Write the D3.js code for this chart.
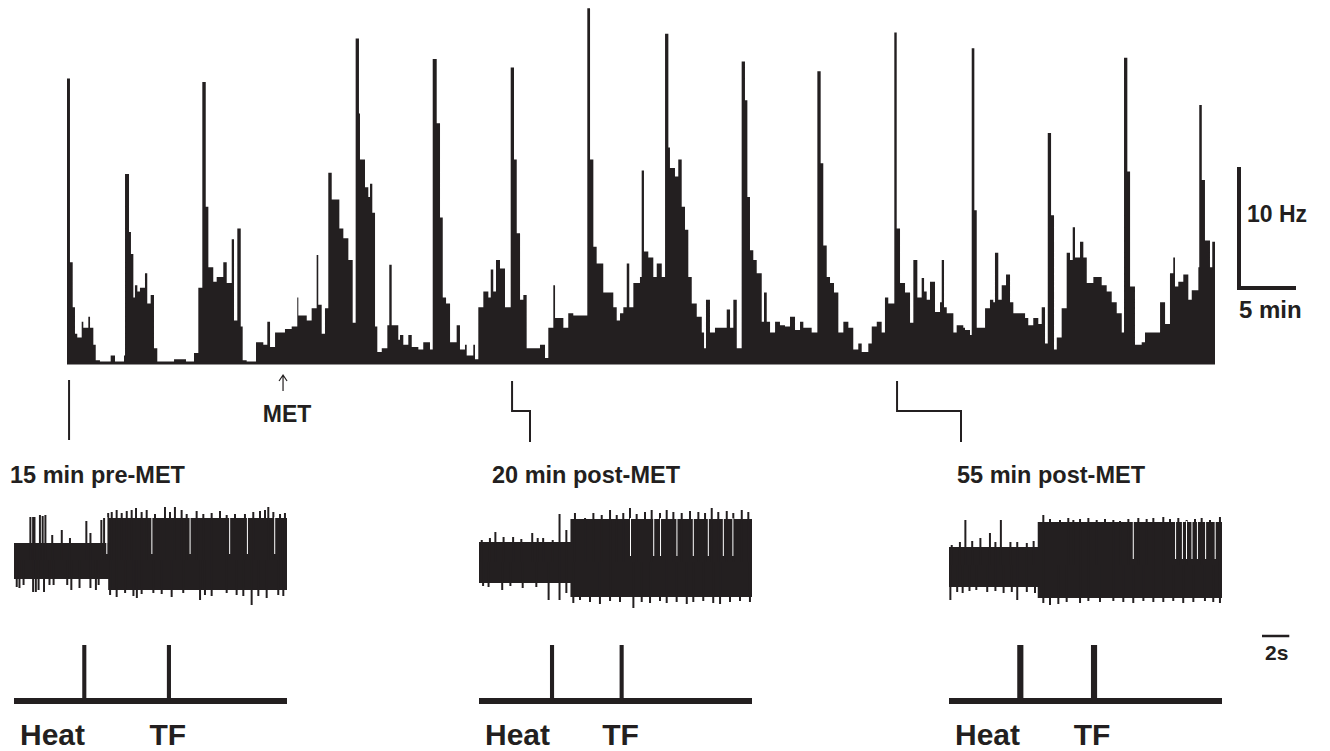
<!DOCTYPE html>
<html>
<head>
<meta charset="utf-8">
<script src="https://cdn.jsdelivr.net/npm/d3@7"></script>
<style>
  body { margin: 0; background: #fff; }
  text { font-family: "Liberation Sans", Arial, sans-serif; font-weight: bold; fill: #231f20; }
</style>
</head>
<body>
<div id="canvas"></div>
<script>
// ratemeter: [time (min), rate (Hz)], step after each time
const ratemeter = [
  [0, 23.6], [0.26, 8.4], [0.50, 4.7], [0.70, 2.5], [0.90, 2.2], [1.29, 3.5], [1.43, 3.0], [1.87, 3.9],
  [2.02, 3.0], [2.31, 1.6], [2.52, 0.3], [2.89, 0], [3.83, 0.7], [4.21, 0], [5.00, 0.7], [5.09, 15.7],
  [5.44, 10.9], [5.61, 9.1], [5.82, 5.5], [5.96, 6.5], [6.17, 6.0], [6.40, 6.3], [6.84, 7.5], [7.04, 5.0],
  [7.34, 5.7], [7.63, 1.3], [7.92, 0], [9.39, 0.4], [10.44, 0], [11.14, 0.9], [11.52, 6.3], [11.87, 23.3],
  [12.17, 13.0], [12.40, 8.0], [12.83, 6.8], [13.13, 7.2], [13.71, 8.4], [14.01, 6.7], [14.45, 10.3], [14.65, 3.6],
  [14.94, 11.2], [15.24, 3.1], [15.41, 0.3], [15.76, 0], [16.58, 1.8], [17.22, 1.6], [17.57, 3.5], [17.81, 1.4],
  [18.25, 2.6], [19.12, 2.9], [19.71, 3.1], [20.20, 5.5], [20.29, 4.0], [21.03, 3.6], [21.46, 4.6], [21.90, 9.0],
  [22.04, 4.9], [22.34, 2.5], [22.63, 4.6], [22.92, 15.8], [23.22, 13.6], [23.89, 11.2], [24.24, 10.4], [24.68, 8.6],
  [25.06, 3.4], [25.32, 26.9], [25.61, 20.7], [25.70, 16.9], [26.14, 14.6], [26.43, 13.8], [26.58, 14.9], [26.78, 12.5],
  [27.02, 3.1], [27.22, 1.0], [27.61, 1.3], [28.10, 3.2], [28.27, 8.2], [28.48, 3.2], [29.06, 2.0], [29.21, 2.4],
  [29.50, 1.6], [29.94, 2.4], [30.24, 1.4], [30.82, 1.2], [31.25, 1.8], [31.84, 1.2], [32.08, 25.2], [32.43, 19.9],
  [32.72, 12.1], [32.96, 5.5], [33.25, 5.0], [33.60, 1.8], [34.18, 3.2], [34.47, 1.2], [34.91, 1.6], [35.06, 0.7],
  [35.64, 1.6], [35.79, 0.4], [36.08, 4.7], [36.52, 6.0], [36.96, 5.5], [37.17, 7.8], [37.39, 6.0], [37.63, 8.6],
  [37.98, 7.9], [38.42, 4.7], [38.92, 24.5], [39.21, 16.9], [39.45, 10.8], [39.74, 5.3], [40.03, 5.7], [40.32, 1.3],
  [41.49, 1.6], [41.93, 0.5], [42.22, 3.0], [42.66, 6.5], [42.81, 3.8], [43.54, 3.0], [43.97, 4.2], [44.41, 4.0],
  [45.64, 29.4], [45.88, 16.9], [46.17, 9.7], [46.46, 8.3], [47.04, 5.9], [47.92, 4.7], [48.22, 3.6], [48.51, 4.2],
  [48.80, 4.7], [49.10, 8.3], [49.32, 4.7], [49.68, 6.7], [50.26, 7.2], [50.41, 16.0], [50.61, 9.3], [50.99, 8.8],
  [51.43, 7.2], [51.73, 8.3], [52.17, 7.2], [52.46, 27.3], [52.75, 17.9], [52.89, 16.2], [53.33, 15.5], [53.62, 16.9],
  [53.92, 13.0], [54.21, 11.1], [54.50, 7.2], [54.80, 5.0], [55.24, 3.9], [55.68, 2.6], [55.88, 1.3], [56.05, 5.3],
  [56.40, 2.6], [56.84, 3.0], [57.87, 4.5], [58.16, 3.0], [58.45, 5.3], [58.75, 1.3], [59.18, 25.0], [59.47, 21.8],
  [59.68, 13.8], [59.91, 9.4], [60.20, 8.6], [60.50, 7.5], [60.94, 3.5], [61.14, 5.9], [61.38, 3.5], [61.67, 2.6],
  [62.11, 3.5], [62.54, 3.2], [62.98, 3.1], [63.42, 3.9], [63.86, 2.8], [64.30, 3.5], [64.59, 3.0], [65.32, 2.6],
  [65.82, 24.2], [66.11, 16.6], [66.34, 9.8], [66.64, 7.2], [66.93, 6.7], [67.28, 5.9], [67.66, 2.6], [68.10, 3.5],
  [68.54, 3.0], [68.97, 1.2], [69.41, 1.7], [69.71, 1.0], [70.29, 1.7], [70.59, 3.1], [71.03, 3.5], [71.46, 2.6],
  [71.75, 5.5], [72.04, 5.0], [72.57, 27.4], [72.78, 11.2], [73.07, 6.7], [73.51, 5.9], [73.95, 3.4], [74.24, 8.6],
  [74.59, 5.5], [74.97, 7.1], [75.18, 6.0], [75.41, 5.3], [75.70, 6.8], [76.14, 4.3], [76.58, 5.1], [76.73, 8.6],
  [76.93, 4.7], [77.17, 4.2], [77.75, 2.6], [78.04, 3.2], [78.62, 3.0], [78.77, 2.8], [79.21, 2.4], [79.36, 26.1],
  [79.59, 12.7], [79.80, 3.0], [80.53, 4.6], [80.96, 5.3], [81.25, 5.1], [81.40, 9.2], [81.69, 5.3], [81.99, 6.5],
  [82.37, 7.4], [82.72, 5.1], [83.01, 4.2], [84.04, 3.8], [84.32, 3.2], [84.76, 3.8], [85.20, 3.3], [85.50, 4.7],
  [85.79, 1.7], [86.03, 19.1], [86.32, 12.3], [86.58, 1.2], [86.82, 2.2], [87.25, 4.6], [87.69, 9.2], [87.98, 8.6],
  [88.22, 11.3], [88.42, 8.8], [88.86, 10.1], [89.15, 8.8], [89.45, 6.7], [90.03, 7.2], [90.76, 6.5], [91.20, 6.0],
  [91.64, 5.1], [92.08, 4.2], [92.52, 2.6], [92.72, 25.3], [93.01, 15.9], [93.25, 6.4], [93.68, 1.6], [94.27, 1.8],
  [94.56, 2.6], [95.88, 5.1], [96.32, 3.3], [96.75, 7.5], [97.04, 8.8], [97.19, 6.4], [97.48, 6.8], [97.92, 7.4],
  [98.36, 5.3], [98.66, 6.1], [99.24, 8.0], [99.32, 21.4], [99.54, 15.2], [99.82, 10.2], [100.26, 8.0], [100.46, 10.1],
  [100.70, 10.1]
];

const metTime = 18.95;               // min
const snapTimes = [0.18, 39.04, 72.81];
const snapLabels = ["15 min pre-MET", "20 min post-MET", "55 min post-MET"];

// raw extracellular traces (20 s each), arbitrary units
const stepTime = [6.9, 6.7, 6.5];    // s, onset of firing increase
const bandPre = [[17, -19], [20, -21], [18, -22]];
const bandPost = [[42, -30], [43, -35], [43, -33]];

// [time (s), excursion]
const spikes1 = [
  [1.2, 43], [1.4, 43], [1.5, 43], [1.9, 45], [2.1, 44], [2.3, 45], [2.8, 25], [3.5, 30], [4.1, 22], [5.3, 39],
  [5.6, 27], [6.4, 40], [6.6, 42], [6.9, 47],
  [7.16, 48], [7.52, 50], [7.89, 47], [8.26, 49], [8.62, 50], [8.94, 52], [9.35, 48], [9.72, 50], [10.33, 46],
  [11.06, 53], [11.43, 48], [11.79, 53], [12.28, 50], [12.65, 46], [13.38, 49], [13.87, 46], [14.48, 47],
  [15.09, 49], [15.58, 45], [16.19, 46], [16.92, 46], [17.53, 48], [18.02, 49], [18.39, 50], [18.63, 53],
  [19.0, 48], [19.49, 46], [19.85, 47],
  [0.2, -27], [0.4, -28], [0.7, -25], [1.4, -32], [1.6, -32], [1.8, -30], [2.2, -32], [2.6, -25], [2.9, -25],
  [3.9, -25], [4.2, -30], [4.8, -28], [5.6, -28], [6.0, -30], [6.2, -25],
  [7.04, -35], [7.52, -37], [8.14, -33], [8.75, -36], [9.0, -38], [9.35, -34], [10.21, -33], [10.82, -34],
  [11.55, -37], [12.40, -33], [13.63, -40], [13.99, -35], [14.48, -36], [15.58, -33], [16.31, -35], [16.80, -36],
  [17.41, -45], [17.90, -36], [18.51, -38], [19.36, -35], [19.73, -36]
];
const spikes2 = [
  [0.2, 22], [0.8, 24], [1.2, 30], [1.8, 25], [2.5, 25], [3.1, 23], [3.9, 29], [4.3, 24], [4.7, 24], [5.4, 22],
  [5.9, 48], [6.4, 32],
  [7.03, 49], [7.77, 44], [8.38, 49], [8.99, 47], [9.60, 52], [10.09, 47], [10.57, 49], [11.06, 54], [11.55, 48],
  [12.16, 50], [12.65, 52], [13.26, 49], [13.75, 52], [14.24, 50], [14.85, 49], [15.46, 51], [16.07, 50],
  [16.56, 49], [17.05, 54], [17.53, 50], [18.15, 51], [18.63, 49], [19.25, 52], [19.73, 50],
  [0.3, -24], [0.7, -25], [1.7, -28], [2.3, -24], [3.2, -26], [4.2, -25], [5.1, -38], [5.9, -38], [6.4, -31],
  [6.91, -41], [7.40, -38], [8.13, -40], [8.86, -42], [9.60, -39], [10.33, -40], [11.31, -46], [11.92, -40],
  [12.53, -41], [13.26, -39], [13.75, -41], [14.48, -40], [15.22, -42], [15.70, -40], [16.43, -39], [17.16, -41],
  [17.66, -42], [18.39, -40], [19.12, -39], [19.85, -40]
];
const spikes3 = [
  [0.2, 20], [0.8, 23], [1.2, 45], [1.7, 24], [2.3, 27], [3.0, 32], [3.4, 23], [3.8, 45], [4.5, 23], [5.0, 23],
  [5.7, 22], [6.2, 24],
  [6.91, 50], [7.40, 46], [8.13, 45], [8.74, 47], [9.11, 45], [9.60, 46], [10.21, 47], [10.82, 45], [11.43, 46],
  [12.04, 45], [12.53, 44], [13.14, 46], [13.87, 47], [14.48, 46], [14.97, 47], [15.70, 48], [16.19, 46],
  [16.80, 47], [17.41, 45], [18.02, 46], [18.51, 47], [19.12, 45], [19.85, 48],
  [0.1, -35], [0.6, -27], [1.0, -28], [1.5, -26], [2.0, -25], [2.8, -27], [3.4, -26], [4.0, -28], [4.6, -27],
  [5.0, -35], [5.7, -27], [6.3, -28],
  [6.91, -38], [7.40, -40], [8.01, -39], [8.62, -37], [9.60, -38], [10.21, -36], [11.06, -37], [12.04, -36],
  [12.77, -37], [13.50, -38], [14.24, -36], [14.97, -37], [15.70, -37], [16.43, -36], [17.16, -38], [17.90, -37],
  [18.75, -36], [19.36, -37], [19.85, -38]
];
const rawSpikes = [spikes1, spikes2, spikes3];

// thin white gaps in the upper half of the firing band (s)
const gaps1 = [6.8, 10.1, 12.9, 15.8, 17.1, 19.1];
const gaps2 = [11.1, 12.8, 13.3, 14.5, 15.7, 16.8, 17.9, 18.6];
const gaps3 = [13.5, 16.6, 17.1, 17.4, 17.8, 18.2, 18.8, 19.5];
const rawGaps = [gaps1, gaps2, gaps3];

// stimulus marker channel
const heatTimes = [5.0, 5.2, 5.0];   // s
const tfTimes = [11.2, 10.3, 10.4];
const pulseDur = [0.3, 0.3, 0.45];

const ink = "#231f20";
const width = 1330;
const height = 751;

const svg = d3.select("#canvas").append("svg")
  .attr("width", width)
  .attr("height", height);

// ---- ratemeter ----
const x = d3.scaleLinear().domain([0, 100.7]).range([67, 1215]);
const y = d3.scaleLinear().domain([0, 30]).range([364, 1]);

svg.append("path")
  .datum(ratemeter)
  .attr("fill", ink)
  .attr("d", d3.area()
    .curve(d3.curveStepAfter)
    .x(d => x(d[0]))
    .y0(y(0))
    .y1(d => y(d[1])));

svg.append("line")
  .attr("x1", x(0)).attr("x2", x(100.7))
  .attr("y1", y(0) - 1).attr("y2", y(0) - 1)
  .attr("stroke", ink).attr("stroke-width", 3);

// scale bars
const sbX = 1239, sbY = 288;
svg.append("path")
  .attr("d", `M${sbX},${sbY - (y(0) - y(10))} V${sbY} H${sbX + x(5) - x(0)}`)
  .attr("fill", "none").attr("stroke", ink).attr("stroke-width", 4);
svg.append("text").attr("x", 1247).attr("y", 222).style("font-size", "23px").text("10 Hz");
svg.append("text").attr("x", 1239).attr("y", 318).style("font-size", "24px").text("5 min");

// MET arrow
const mx = x(metTime);
svg.append("path")
  .attr("d", `M${mx},391 V375 M${mx - 4},381 L${mx},375 L${mx + 4},381`)
  .attr("fill", "none").attr("stroke", ink).attr("stroke-width", 1.2);
svg.append("text").attr("x", mx + 4).attr("y", 422)
  .attr("text-anchor", "middle").style("font-size", "23px").text("MET");

// connectors from the ratemeter to each snapshot
const elbowTo = [null, 530, 961];
snapTimes.forEach((t, i) => {
  const sx = x(t);
  const d = elbowTo[i] === null
    ? `M${sx},380 V440`
    : `M${sx},381 V411 H${elbowTo[i]} V442`;
  svg.append("path").attr("d", d)
    .attr("fill", "none").attr("stroke", ink).attr("stroke-width", 2);
});

// ---- raw traces + stimulus channel ----
const panelX = [14, 479, 949];
const panelMid = [560, 562, 565];
const labelX = [10, 492, 957];
const xr = d3.scaleLinear().domain([0, 20]).range([0, 273]);
const yr = d3.scaleLinear().domain([-60, 60]).range([60, -60]);
const ym = d3.scaleLinear().domain([0, 1]).range([701, 645]);

panelX.forEach((px, i) => {
  svg.append("text").attr("x", labelX[i]).attr("y", 483)
    .style("font-size", "23.5px").text(snapLabels[i]);

  const g = svg.append("g").attr("transform", `translate(${px},${panelMid[i]})`);
  const band = [
    [0, bandPre[i]],
    [stepTime[i], bandPost[i]],
    [20, bandPost[i]]
  ];
  g.append("path")
    .datum(band)
    .attr("fill", ink)
    .attr("d", d3.area()
      .curve(d3.curveStepAfter)
      .x(d => xr(d[0]))
      .y0(d => yr(d[1][1]))
      .y1(d => yr(d[1][0])));

  g.selectAll("line.spike")
    .data(rawSpikes[i])
    .enter()
    .append("line")
    .attr("class", "spike")
    .attr("x1", d => xr(d[0])).attr("x2", d => xr(d[0]))
    .attr("y1", yr(0)).attr("y2", d => yr(d[1]))
    .attr("stroke", ink).attr("stroke-width", 2);

  g.selectAll("line.gap")
    .data(rawGaps[i])
    .enter()
    .append("line")
    .attr("class", "gap")
    .attr("x1", d => xr(d)).attr("x2", d => xr(d))
    .attr("y1", yr(6)).attr("y2", yr(bandPost[i][0] + 1))
    .attr("stroke", "#fff").attr("stroke-width", 1);

  // stimulus marker
  const m = svg.append("g").attr("transform", `translate(${px},0)`);
  m.append("line")
    .attr("x1", xr(0)).attr("x2", xr(20))
    .attr("y1", ym(0)).attr("y2", ym(0))
    .attr("stroke", ink).attr("stroke-width", 6);
  [heatTimes[i], tfTimes[i]].forEach(t => {
    m.append("rect")
      .attr("x", xr(t))
      .attr("y", ym(1))
      .attr("width", xr(pulseDur[i]) - xr(0))
      .attr("height", ym(0) - ym(1))
      .attr("fill", ink);
  });
  m.append("text").attr("x", xr(0) + 6).attr("y", 745)
    .style("font-size", "30px").text("Heat");
  m.append("text").attr("x", xr(tfTimes[i]) + 1).attr("y", 745)
    .attr("text-anchor", "middle").style("font-size", "30px").text("TF");
});

// 2 s bar
const bx = 1262;
svg.append("line")
  .attr("x1", bx).attr("x2", bx + xr(2) - xr(0))
  .attr("y1", 636).attr("y2", 636)
  .attr("stroke", ink).attr("stroke-width", 2.5);
svg.append("text").attr("x", 1265).attr("y", 660).style("font-size", "21px").text("2s");
</script>
</body>
</html>
